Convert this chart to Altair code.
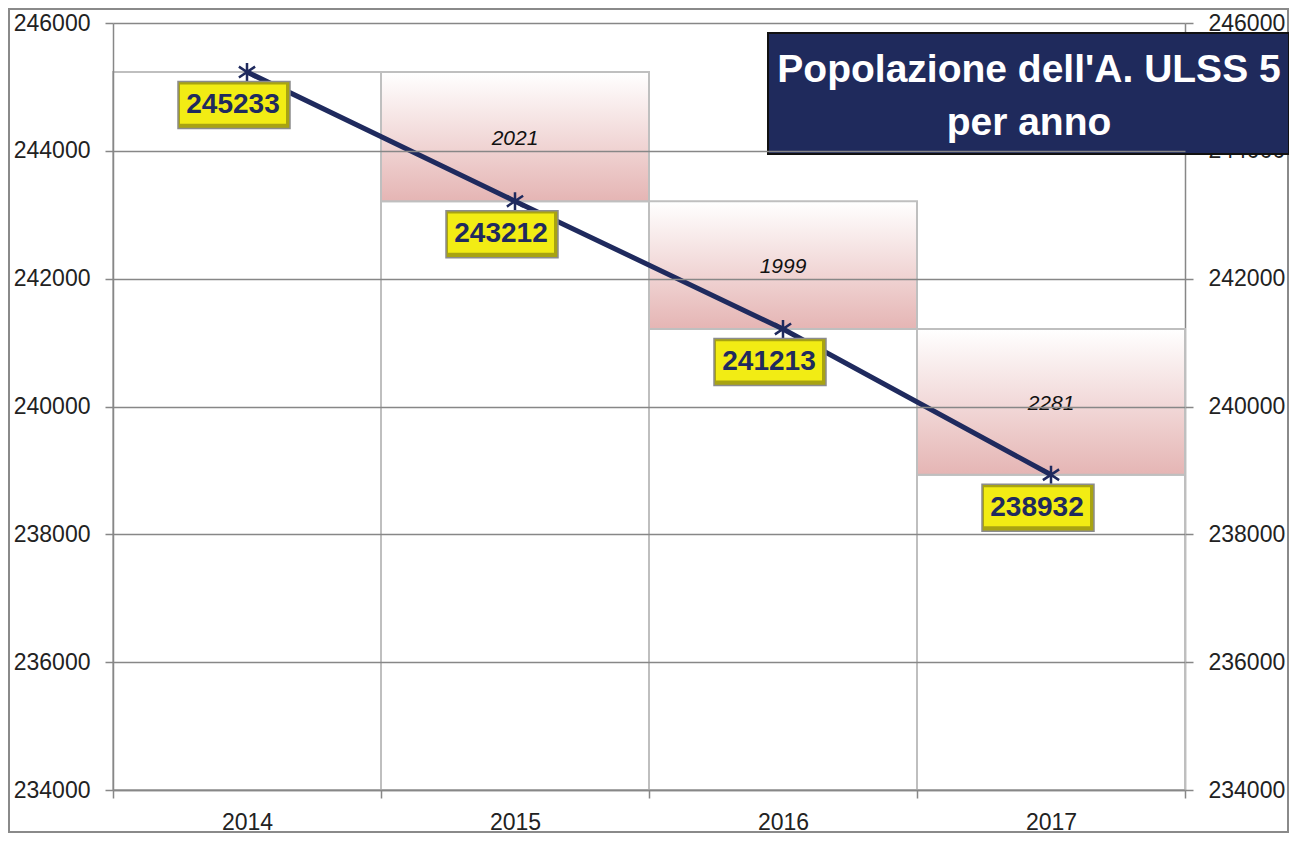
import altair as alt
import pandas as pd

# ---- data ----
years = ["2014", "2015", "2016", "2017"]
population = [245233, 243212, 241213, 238932]
y_ticks = [234000, 236000, 238000, 240000, 242000, 244000, 246000]
title_lines = ["Popolazione dell'A. ULSS 5", "per anno"]

Y_MIN, Y_MAX = 234000, 246000

df = pd.DataFrame({"year": years, "pop": population})
df["prev"] = df["pop"].shift(1)
df["diff"] = df["prev"] - df["pop"]
df["mid"] = (df["prev"] + df["pop"]) / 2
diff_df = df.dropna().copy()
diff_df["diff_label"] = diff_df["diff"].astype(int).astype(str)

W, H = 1072, 767
FONT = "Liberation Sans"
NAVY = "#1f2a5e"
GRID = "#878787"
BORDER = "#bfbfbf"
LBL = "#222222"

xscale = alt.Scale(domain=years, paddingInner=0, paddingOuter=0)
yscale = alt.Scale(domain=[Y_MIN, Y_MAX], nice=False, zero=False)

x_axis = alt.Axis(title=None, tickBand="extent", tickSize=8, tickColor=GRID, tickWidth=1.5,
                  domainColor=GRID, domainWidth=1.5, labelFont=FONT, labelFontSize=23,
                  labelColor=LBL, labelPadding=13, labelAngle=0, grid=False, zindex=1)
y_left = alt.Axis(title=None, orient="left", values=y_ticks, format="d", tickSize=8,
                  tickColor=GRID, tickWidth=1.5, domainColor=GRID, domainWidth=1.5,
                  grid=True, gridColor=GRID, gridWidth=1.5, labelFont=FONT, labelFontSize=23,
                  labelColor=LBL, labelPadding=15, zindex=1)
y_right = alt.Axis(title=None, orient="right", values=y_ticks, format="d", tickSize=8,
                   tickColor=GRID, tickWidth=1.5, domainColor=GRID, domainWidth=1.5,
                   grid=False, labelFont=FONT, labelFontSize=23, labelColor=LBL,
                   labelPadding=15, zindex=0)

X = alt.X("year:N", scale=xscale, axis=x_axis, sort=years)

base = alt.Chart(df)

white_bars = base.mark_bar(fillOpacity=0, stroke=BORDER, strokeWidth=2).encode(
    x=X,
    y=alt.Y("pop:Q", scale=yscale, axis=y_left),
    y2=alt.Y2Datum(Y_MIN),
)

pink = alt.Gradient(
    gradient="linear",
    stops=[alt.GradientStop(color="#ffffff", offset=0),
           alt.GradientStop(color="#e5b5b4", offset=1)],
    x1=0, x2=0, y1=0, y2=1,
)
pink_bars = alt.Chart(diff_df).mark_bar(fill=pink, stroke=BORDER, strokeWidth=2).encode(
    x=X,
    y=alt.Y("pop:Q", scale=yscale, axis=None),
    y2="prev:Q",
)

diff_text = alt.Chart(diff_df).mark_text(font=FONT, fontSize=21, fontStyle="italic",
                                         color="#111111", baseline="middle", dy=2).encode(
    x=X,
    y=alt.Y("mid:Q", scale=yscale, axis=None),
    text="diff_label:N",
)

line = base.mark_line(color=NAVY, strokeWidth=5).encode(
    x=X,
    y=alt.Y("pop:Q", scale=yscale, axis=y_right),
)

ASTERISK = "M0,-1L0,1M-0.9,-0.6L0.9,0.6M-0.9,0.6L0.9,-0.6"
markers = base.mark_point(shape=ASTERISK, size=324, filled=False, stroke=NAVY,
                          strokeWidth=2.5, opacity=1).encode(
    x=X,
    y=alt.Y("pop:Q", scale=yscale, axis=None),
)

DX, DY = -13, 33
OUTER = "M-1,-0.42L1,-0.42L1,0.42L-1,0.42Z"
INNER = "M-1,-0.37L1,-0.37L1,0.37L-1,0.37Z"
box_outer = base.mark_point(shape=OUTER, size=112 ** 2, filled=True, fill="#a8a312",
                            stroke="#8c8c8c", strokeWidth=1.5, opacity=1,
                            xOffset=DX, yOffset=DY).encode(
    x=X,
    y=alt.Y("pop:Q", scale=yscale, axis=None),
)
box_inner = base.mark_point(shape=INNER, size=106 ** 2, filled=True, fill="#f2ec14",
                            strokeWidth=0, opacity=1,
                            xOffset=DX - 1, yOffset=DY - 1).encode(
    x=X,
    y=alt.Y("pop:Q", scale=yscale, axis=None),
)
box_text = base.mark_text(font=FONT, fontSize=28, fontWeight="bold", color=NAVY,
                          baseline="middle", align="center", dx=DX - 1, dy=DY).encode(
    x=X,
    y=alt.Y("pop:Q", scale=yscale, axis=None),
    text=alt.Text("pop:Q", format="d"),
)

one = pd.DataFrame({"k": [0]})
frame = alt.Chart(one).mark_rect(fillOpacity=0, stroke="#8a8a8a", strokeWidth=2).encode(
    x=alt.value(-104), x2=alt.value(1175), y=alt.value(-14), y2=alt.value(809)
)
title_box = alt.Chart(one).mark_rect(fill="#1f2a5c", stroke="#111111", strokeWidth=2).encode(
    x=alt.value(655), x2=alt.value(1176), y=alt.value(10), y2=alt.value(131)
)
t1 = alt.Chart(pd.DataFrame({"line": [title_lines[0]]})).mark_text(
    font=FONT, fontSize=39, fontWeight="bold", color="white", align="center",
    baseline="alphabetic").encode(x=alt.value(916), y=alt.value(59), text="line:N")
t2 = alt.Chart(pd.DataFrame({"line": [title_lines[1]]})).mark_text(
    font=FONT, fontSize=39, fontWeight="bold", color="white", align="center",
    baseline="alphabetic").encode(x=alt.value(916), y=alt.value(112), text="line:N")

chart = alt.layer(
    white_bars, pink_bars, diff_text, line, markers, box_outer, box_inner, box_text,
    frame, title_box, t1, t2
).resolve_axis(y="independent").properties(
    width=W, height=H,
    autosize=alt.AutoSizeParams(type="none"),
    padding={"left": 105, "top": 15, "right": 104, "bottom": 43},
    background="white",
).configure_view(strokeWidth=0)

chart.save("out.html", embed_options={"renderer": "svg", "actions": False})
